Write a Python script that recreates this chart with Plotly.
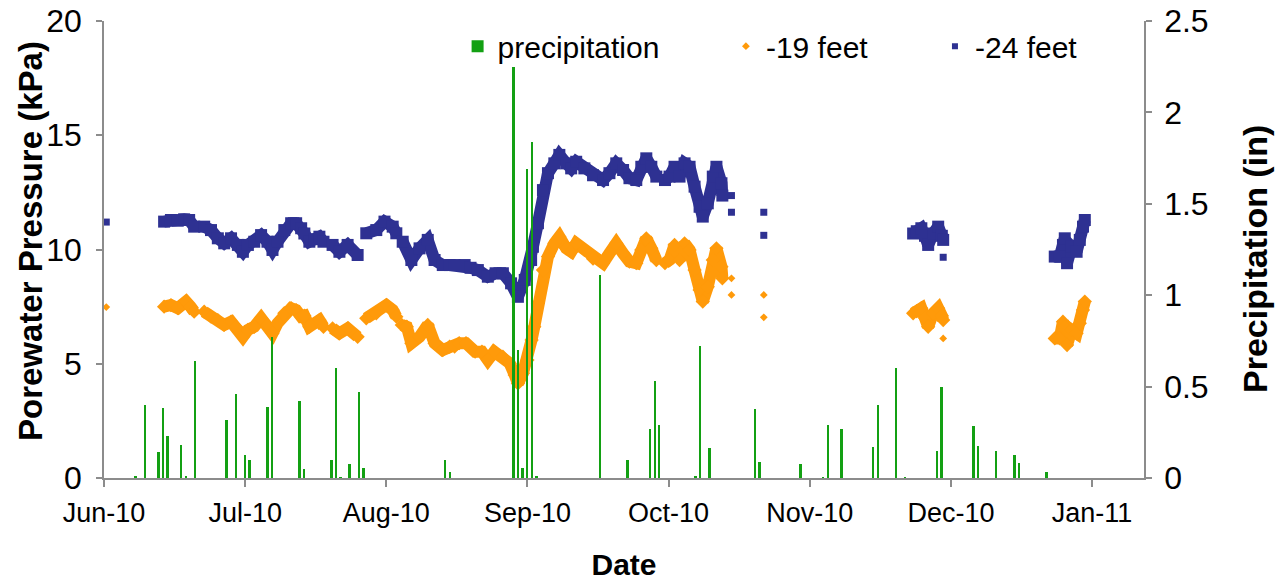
import pandas as pd
import plotly.graph_objects as go
from plotly.subplots import make_subplots

START = pd.Timestamp("2010-06-01")

# ---------------- data ----------------
precip_dates = [
    "2010-06-08", "2010-06-10", "2010-06-13", "2010-06-14", "2010-06-15", "2010-06-18",
    "2010-06-19", "2010-06-21", "2010-06-28", "2010-06-30", "2010-07-02", "2010-07-03",
    "2010-07-07", "2010-07-08", "2010-07-14", "2010-07-15", "2010-07-21", "2010-07-22",
    "2010-07-23", "2010-07-25", "2010-07-27", "2010-07-28", "2010-08-15", "2010-08-16",
    "2010-08-30", "2010-08-31", "2010-09-01", "2010-09-02", "2010-09-03", "2010-09-04",
    "2010-09-18", "2010-09-24", "2010-09-29", "2010-09-30", "2010-10-01", "2010-10-09",
    "2010-10-10", "2010-10-12", "2010-10-22", "2010-10-23", "2010-11-01", "2010-11-06",
    "2010-11-07", "2010-11-10", "2010-11-17", "2010-11-18", "2010-11-22", "2010-11-24",
    "2010-12-01", "2010-12-02", "2010-12-09", "2010-12-10", "2010-12-14", "2010-12-18",
    "2010-12-19", "2010-12-25",
]
precip_in = [
    0.01, 0.40, 0.14, 0.385, 0.23, 0.18,
    0.01, 0.64, 0.32, 0.46, 0.125, 0.10,
    0.39, 0.77, 0.42, 0.05, 0.10, 0.60,
    0.005, 0.075, 0.47, 0.055, 0.10, 0.035,
    2.25, 0.70, 0.055, 1.69, 1.84, 0.01,
    1.11, 0.10, 0.27, 0.53, 0.29, 0.01,
    0.72, 0.165, 0.38, 0.09, 0.075, 0.005,
    0.29, 0.27, 0.17, 0.40, 0.60, 0.005,
    0.15, 0.50, 0.285, 0.175, 0.15, 0.125,
    0.08, 0.035,
]

# days after 2010-06-01 and pressure (kPa) at -24 feet; None = break in the record
ft24_day = [
    0.5, None,
    13.2, 14.7, 16.2, 17.6, 18.7, 19.8, None,
    22.0, 23.5, 25.0, 26.4, 27.9, 29.4, 30.5, 31.6, 33.0, 34.5, 35.9, 37.0, 38.1, 39.6,
    41.1, 42.2, 43.3, 44.0, 45.1, 46.2, 47.3, 48.2, None,
    50.2, 51.7, 53.5, 55.7, None,
    57.6, 59.8, 61.6, 63.4, 64.2, None,
    65.6, 67.5, 69.3, 71.1, 72.6, 74.4, 75.9, 77.0, 79.2, 80.5, 82.1, 84.3, 86.0, 87.6,
    89.4, 90.9, 92.4, 93.8, 94.2, 95.3, 96.4, 97.5, 98.9, 100.0, 101.5, 102.6, 103.7,
    105.5, 107.4, 109.6, 111.0, 112.5, 114.0, 115.4, 116.9, 118.0, 119.1, 120.2, 121.3, None,
    123.2, 124.2, 125.3, 126.4, 127.5, 128.6, 129.7, 130.8, 131.5, 132.6, 133.7, 134.5,
    135.6, 135.8, None,
    137.8, None, 137.8, None, 144.9, None, 144.9, None,
    177.7, 178.5, 179.5, 180.3, 181.0, 182.1, 183.2, 184.0, 184.3, None, 184.3, None,
    208.8, 209.9, 210.6, 211.0, 211.5, 212.5, 213.6, 214.3, 215.0, 215.4,
]
ft24_kpa = [
    11.2, None,
    11.22, 11.29, 11.26, 11.32, 11.29, 11.0, None,
    11.0, 10.85, 10.49, 10.27, 10.49, 10.2, 9.9, 10.2, 10.34, 10.63, 10.34, 9.98, 10.34, 10.85,
    11.15, 11.15, 10.93, 10.7, 10.34, 10.45, 10.56, 10.34, None,
    10.2, 9.9, 10.2, 9.76, None,
    10.71, 10.85, 11.22, 11.0, 10.71, None,
    10.34, 9.54, 10.05, 10.42, 9.54, 9.32, 9.32, 9.32, 9.32, 9.2, 9.10, 8.81, 8.96, 8.96,
    8.52, 7.93, 8.67, 9.54, 10.12, 11.15, 12.6, 13.34, 13.77, 14.14, 13.77, 13.55, 13.84,
    13.55, 13.25, 13.04, 13.34, 13.77, 13.48, 13.12, 13.04, 13.62, 13.99, 13.62, 13.19, None,
    13.04, 13.19, 13.62, 13.19, 13.77, 13.62, 12.75, 11.87, 11.44, 12.02, 13.19, 13.62,
    12.9, 12.36, None,
    12.36, None, 11.63, None, 11.63, None, 10.62, None,
    10.7, 10.8, 10.93, 10.6, 10.2, 10.7, 11.0, 10.6, 10.42, None, 9.66, None,
    9.69, 9.69, 10.2, 10.49, 9.4, 10.12, 9.9, 10.42, 11.0, 11.29,
]

# days after 2010-06-01 and pressure (kPa) at -19 feet; None = break in the record
ft19_day = [
    0.5, None,
    13.2, 14.7, 16.2, 18.0, 19.0, 19.8, None,
    22.0, 23.5, 25.0, 26.4, 27.9, 29.0, 30.5, 31.6, 33.0, 34.5, 35.9, 37.0, 38.1, 39.6,
    41.1, 42.2, 43.3, 44.0, 45.1, 47.3, 48.2, None,
    50.2, 51.7, 53.5, 55.7, None,
    57.6, 59.8, 62.0, 63.4, 64.2, None,
    65.4, 66.5, 67.5, 69.3, 71.1, 72.6, 74.4, 75.9, 77.0, 78.0, 79.5, 81.5, 83.0, 84.3,
    85.7, 87.6, 89.1, 90.2, 90.9, 92.0, 93.0, 93.9, 94.5, 95.3, 96.4, 97.5, 98.9, 100.0,
    101.5, 102.6, 103.7, 105.5, 107.4, 109.6, 111.0, 112.5, 114.0, 115.4, 116.9, 118.0,
    119.1, 120.2, 121.3, None,
    123.2, 124.2, 125.3, 126.4, 127.5, 128.6, 129.7, 130.8, 131.5, 132.6, 133.7, 134.5,
    135.6, 135.8, None,
    137.8, None, 137.8, None, 144.9, None, 144.9, None,
    177.7, 178.5, 179.5, 180.3, 181.0, 182.1, 183.2, 184.0, 184.3, None, 184.3, None,
    208.8, 209.9, 210.6, 211.0, 211.5, 212.5, 213.6, 214.3, 215.0, 215.4,
]
ft19_kpa = [
    7.48, None,
    7.5, 7.57, 7.43, 7.72, 7.5, 7.28, None,
    7.28, 7.06, 6.91, 6.7, 6.84, 6.62, 6.18, 6.48, 6.62, 6.99, 6.7, 6.33, 6.77, 7.21,
    7.43, 7.35, 7.06, 7.1, 6.62, 6.91, 6.62, None,
    6.55, 6.33, 6.55, 6.18, None,
    6.99, 7.21, 7.57, 7.35, 7.06, None,
    6.7, 6.62, 5.9, 6.18, 6.7, 5.9, 5.6, 5.75, 5.75, 5.9, 5.9, 5.53, 5.53, 5.16,
    5.53, 5.31, 5.02, 4.51, 4.14, 4.58, 5.16, 6.04, 6.62, 7.65, 9.10, 9.69, 10.27, 10.56,
    10.05, 9.9, 10.27, 9.98, 9.6, 9.4, 9.83, 10.27, 9.83, 9.47, 9.4, 9.98,
    10.49, 10.05, 9.54, None,
    9.4, 9.54, 10.2, 9.54, 10.27, 9.98, 9.10, 8.23, 7.72, 8.37, 9.54, 10.05,
    9.25, 8.74, None,
    8.74, None, 8.01, None, 8.01, None, 7.03, None,
    7.21, 7.3, 7.43, 7.0, 6.62, 7.21, 7.43, 7.1, 6.91, None, 6.11, None,
    6.11, 6.11, 6.84, 6.6, 5.82, 6.48, 6.33, 6.77, 7.35, 7.72,
]

x_tick_dates = ["2010-06-01", "2010-07-02", "2010-08-02", "2010-09-02",
                "2010-10-03", "2010-11-03", "2010-12-04", "2011-01-04"]
x_tick_labels = ["Jun-10", "Jul-10", "Aug-10", "Sep-10", "Oct-10", "Nov-10", "Dec-10", "Jan-11"]

# ---------------- styling ----------------
FONT = "Liberation Sans, Arial, sans-serif"
GREEN = "#13A013"
ORANGE = "#FF9A0A"
NAVY = "#2E3192"
AXIS = "#8C8C8C"

W, H = 1276, 581
ML, MR, MT, MB = 104, 132, 21, 103
PW, PH = W - ML - MR, H - MT - MB


def px_to_paper(px, py):
    return (px - ML) / PW, (H - MB - py) / PH


def split_record(days, vals):
    """Group readings into runs of the continuous record (None marks a break)."""
    runs, cur = [], []
    for d, v in zip(days, vals):
        if d is None:
            if cur:
                runs.append(cur)
            cur = []
        else:
            cur.append((START + pd.Timedelta(days=d), v))
    if cur:
        runs.append(cur)
    return runs


def add_series(days, vals, color, symbol, band_w, mk_big, mk_small):
    runs = split_record(days, vals)
    lx, ly, mx, my, ms = [], [], [], [], []
    for run in runs:
        big = len(run) > 1
        if big:
            for t, v in run:
                lx.append(t)
                ly.append(v)
            lx.append(None)
            ly.append(None)
        for t, v in run:
            mx.append(t)
            my.append(v)
            ms.append(mk_big if big else mk_small)
    fig.add_trace(go.Scatter(x=lx, y=ly, mode="lines", connectgaps=False,
                             line=dict(color=color, width=band_w), hoverinfo="skip",
                             showlegend=False), secondary_y=False)
    fig.add_trace(go.Scatter(x=mx, y=my, mode="markers",
                             marker=dict(symbol=symbol, size=ms, color=color, opacity=1,
                                         line=dict(width=0)),
                             showlegend=False), secondary_y=False)


fig = make_subplots(specs=[[{"secondary_y": True}]])

add_series(ft19_day, ft19_kpa, ORANGE, "diamond", 12, 11, 6)
add_series(ft24_day, ft24_kpa, NAVY, "square", 12, 12, 7)

fig.add_trace(go.Bar(
    x=pd.to_datetime(precip_dates), y=precip_in, marker=dict(color=GREEN, line=dict(width=0)),
    width=0.42 * 86400000, name="precipitation", legend="legend"), secondary_y=True)

# legend-only entries
fig.add_trace(go.Scatter(
    x=[None], y=[None], mode="markers", name="-19 feet", legend="legend2",
    marker=dict(symbol="diamond", size=6, color=ORANGE)), secondary_y=False)
fig.add_trace(go.Scatter(
    x=[None], y=[None], mode="markers", name="-24 feet", legend="legend3",
    marker=dict(symbol="square", size=6, color=NAVY)), secondary_y=False)

leg_common = dict(orientation="h", yanchor="middle", y=0.945, xanchor="left",
                  bgcolor="rgba(0,0,0,0)", font=dict(family=FONT, size=30, color="black"),
                  itemwidth=30)

lx_t, ly_t = px_to_paper(31, 241)
rx_t, ry_t = px_to_paper(1255, 259)

fig.update_layout(
    width=W, height=H,
    margin=dict(l=ML, r=MR, t=MT, b=MB, autoexpand=False),
    paper_bgcolor="white", plot_bgcolor="white",
    font=dict(family=FONT, color="black"),
    bargap=0,
    legend=dict(x=0.34, **leg_common),
    legend2=dict(x=0.598, **leg_common),
    legend3=dict(x=0.799, **leg_common),
    annotations=[
        dict(text="Porewater Pressure (kPa)", textangle=-90, xref="paper", yref="paper",
             x=lx_t, y=ly_t, xanchor="center", yanchor="middle", showarrow=False,
             font=dict(family=FONT, size=33, color="black", weight="bold")),
        dict(text="Precipitation (in)", textangle=-90, xref="paper", yref="paper",
             x=rx_t, y=ry_t, xanchor="center", yanchor="middle", showarrow=False,
             font=dict(family=FONT, size=34, color="black", weight="bold")),
    ],
)

fig.update_xaxes(
    type="date", automargin=False, domain=[0, 1],
    range=[START, START + pd.Timedelta(days=228.4)],
    tickvals=pd.to_datetime(x_tick_dates), ticktext=x_tick_labels,
    showline=True, linecolor=AXIS, linewidth=1.5,
    ticks="outside", ticklen=7, tickcolor=AXIS, tickwidth=1.5,
    ticklabelstandoff=3,
    showgrid=False, zeroline=False,
    tickfont=dict(family=FONT, size=27, color="black"),
    title=dict(text="Date", font=dict(family=FONT, size=30, color="black", weight="bold"),
               standoff=30),
)
fig.update_yaxes(
    range=[0, 20], tick0=0, dtick=5, automargin=False,
    showline=True, linecolor=AXIS, linewidth=1.5,
    ticks="outside", ticklen=6, tickcolor=AXIS, tickwidth=1.5,
    ticklabelstandoff=8,
    showgrid=False, zeroline=False,
    tickfont=dict(family=FONT, size=32, color="black"),
    secondary_y=False,
)
fig.update_yaxes(
    range=[0, 2.5], tick0=0, dtick=0.5, automargin=False,
    showline=True, linecolor=AXIS, linewidth=1.5,
    ticks="outside", ticklen=6, tickcolor=AXIS, tickwidth=1.5,
    ticklabelstandoff=6,
    showgrid=False, zeroline=False,
    tickfont=dict(family=FONT, size=32, color="black"),
    secondary_y=True,
)

fig.write_html("out.html")
